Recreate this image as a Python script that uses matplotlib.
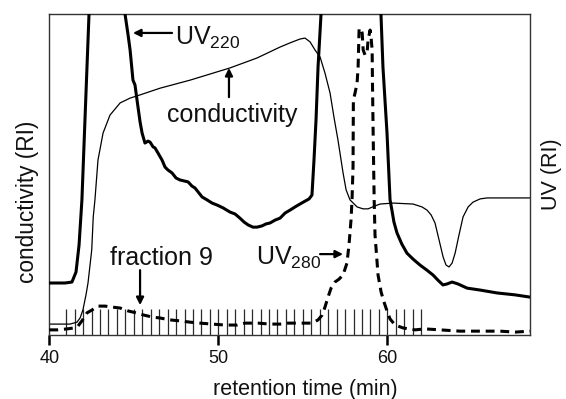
import matplotlib
matplotlib.use("Agg")
import matplotlib.pyplot as plt

plt.rcParams['font.family'] = ['Liberation Sans', 'DejaVu Sans']
plt.rcParams['mathtext.fontset'] = 'custom'
plt.rcParams['mathtext.rm'] = 'Liberation Sans'
plt.rcParams['mathtext.it'] = 'Liberation Sans:italic'
plt.rcParams['mathtext.bf'] = 'Liberation Sans:bold'

# ---- data (retention time in min, signal in relative units 0-100) ----
uv220_a_t = [40.00, 40.93, 41.34, 41.58, 41.76, 41.93, 42.11, 42.35, 42.53]
uv220_a_y = [16.2, 16.2, 16.5, 19.6, 28.0, 42.1, 67.0, 100.0, 129.0]

uv220_b_t = [44.25, 44.48, 44.66, 44.78, 44.95, 45.07, 45.19, 45.37, 45.49, 45.66,
             45.84, 45.96, 46.14, 46.25, 46.43, 46.67, 46.85, 47.02, 47.26, 47.50,
             47.73, 47.97, 48.21, 48.44, 48.62, 48.86, 49.04, 49.33, 49.63, 49.92,
             50.28, 50.69, 50.99, 51.28, 51.52, 51.76, 52.05, 52.29, 52.59, 52.82,
             53.06, 53.36, 53.65, 53.95, 54.24, 54.54, 54.83, 55.13, 55.37, 55.54,
             55.66, 55.78, 55.90, 56.08, 56.20]
uv220_b_y = [130.0, 100.0, 93.5, 88.8, 79.4, 77.9, 73.2, 66.4, 62.9, 59.8,
             60.4, 60.1, 58.6, 58.3, 56.7, 54.5, 52.3, 51.4, 50.5, 48.9,
             48.3, 48.0, 47.7, 46.4, 45.8, 44.2, 43.0, 42.1, 41.1, 40.5,
             39.6, 38.3, 37.7, 36.4, 35.2, 34.3, 33.6, 33.6, 34.0, 34.6,
             34.9, 35.8, 36.4, 38.0, 38.9, 39.9, 40.8, 41.7, 42.4, 43.6,
             54.5, 67.0, 83.5, 100.3, 129.0]

uv220_c_t = [59.50, 59.62, 59.74, 59.98, 60.16, 60.27, 60.39, 60.57, 60.86, 61.16,
             61.51, 61.93, 62.34, 62.70, 62.99, 63.29, 63.53, 63.83, 64.18, 64.72,
             65.49, 66.49, 67.56, 68.44]
uv220_c_y = [130.0, 100.3, 83.5, 62.9, 42.1, 38.9, 35.2, 31.8, 28.3, 25.5,
             23.7, 21.8, 20.2, 18.7, 17.1, 15.6, 15.9, 16.5, 15.9, 14.6,
             14.0, 13.1, 12.5, 11.8]

cond_t = [40.00, 41.22, 41.64, 41.82, 41.99, 42.17, 42.29, 42.41, 42.51, 42.60,
          42.70, 42.88, 43.18, 43.59, 44.19, 44.78, 45.37, 46.56, 48.33, 50.69,
          52.29, 53.65, 54.24, 54.83, 55.13, 55.43, 55.72, 56.02, 56.31, 56.61,
          56.85, 57.08, 57.38, 57.56, 57.79, 58.21, 58.56, 58.86, 59.27, 59.57,
          60.34, 61.52, 62.05, 62.35, 62.59, 62.82, 63.06, 63.30, 63.47, 63.65,
          63.83, 64.01, 64.24, 64.48, 64.78, 65.07, 65.49, 65.90, 68.44]
cond_y = [3.4, 3.4, 4.0, 5.3, 7.8, 12.5, 16.2, 21.8, 26.5, 36.8,
          42.1, 54.5, 62.9, 68.5, 72.3, 73.8, 74.8, 76.9, 79.4, 83.2,
          86.3, 89.7, 91.0, 92.2, 92.5, 91.3, 88.8, 86.6, 81.6, 75.4,
          67.6, 60.7, 50.5, 45.2, 42.1, 39.9, 39.3, 39.3, 40.2, 40.8,
          41.1, 40.8, 39.9, 38.9, 37.4, 34.9, 29.6, 24.3, 21.8, 21.2,
          22.4, 25.5, 31.2, 36.8, 39.9, 41.4, 42.4, 42.7, 42.7]

uv280_t = [40.00, 40.51, 41.05, 41.46, 41.70, 41.93, 42.23, 42.53, 42.88, 43.30,
           43.71, 44.19, 44.66, 45.13, 45.60, 46.08, 46.55, 47.14, 47.73, 48.33,
           48.92, 49.63, 50.40, 51.11, 51.58, 52.35, 53.06, 53.65, 54.12, 54.83,
           55.54, 55.90, 56.14, 56.31, 56.49, 56.67, 56.90, 57.14, 57.38, 57.61,
           57.73, 57.85, 57.91, 57.97, 57.99, 58.09, 58.21, 58.27, 58.33, 58.45,
           58.51, 58.57, 58.68, 58.80, 58.86, 58.98, 59.04, 59.10, 59.12, 59.16,
           59.22, 59.27, 59.45, 59.63, 59.80, 59.98, 60.16, 60.46, 60.93, 61.64,
           62.23, 63.12, 64.30, 65.49, 66.67, 67.56, 68.44]
uv280_y = [1.6, 1.6, 1.9, 2.2, 2.8, 4.4, 6.9, 7.8, 9.0, 9.0,
           8.7, 8.4, 7.5, 6.9, 6.2, 5.6, 5.3, 4.7, 4.4, 4.0,
           3.7, 3.4, 3.1, 3.1, 3.7, 3.7, 3.4, 3.4, 3.7, 3.7,
           3.7, 4.7, 6.2, 8.7, 11.8, 14.6, 16.5, 17.4, 18.7, 22.4,
           28.0, 35.8, 42.1, 52.3, 73.2, 75.4, 78.5, 83.5, 95.6, 95.0,
           94.1, 88.8, 87.2, 87.9, 91.9, 95.0, 92.5, 88.8, 78.5, 62.9,
           42.1, 31.2, 18.7, 13.4, 10.3, 7.5, 5.0, 3.1, 2.2, 1.6,
           1.9, 1.6, 1.2, 1.2, 1.2, 0.9, 1.2]

fraction_edges = [41.0, 41.5, 42.0, 42.5, 43.0, 43.5, 44.0, 44.5, 45.0, 45.5,
                  46.0, 46.5, 47.0, 47.5, 48.0, 48.5, 49.0, 49.5, 50.0, 50.5,
                  51.0, 51.5, 52.0, 52.5, 53.0, 53.5, 54.0, 54.5, 55.0, 55.5,
                  56.0, 56.5, 57.0, 57.5, 58.0, 58.5, 59.0, 59.5, 60.0, 60.5,
                  61.0, 61.5, 62.0]
fraction_top = 8.1

x_ticks = [40, 50, 60]
x_tick_labels = ['40', '50', '60']

# ---- figure ----
fig = plt.figure(figsize=(5.66, 3.99), dpi=100)
ax = fig.add_axes([0.0871, 0.1604, 0.8493, 0.8045])

ax.vlines(fraction_edges, 0, fraction_top, colors='#2a2a2a', lw=0.9, zorder=1)

ax.plot(cond_t, cond_y, color='black', lw=0.9, zorder=2)
for tt, yy in ((uv220_a_t, uv220_a_y), (uv220_b_t, uv220_b_y), (uv220_c_t, uv220_c_y)):
    ax.plot(tt, yy, color='black', lw=2.2, zorder=3, solid_joinstyle='round')
ax.plot(uv280_t, uv280_y, color='black', lw=2.2, dashes=(2.9, 1.9), zorder=3)

ax.set_xlim(40, 68.44)
ax.set_ylim(0, 100)
ax.set_xticks(x_ticks)
ax.set_xticklabels(x_tick_labels)
ax.set_yticks([])
ax.tick_params(axis='x', direction='out', length=7.5, width=1.8, labelsize=13,
               pad=3, colors='black')
ax.tick_params(axis='x', labelcolor='#111111')
for s in ax.spines.values():
    s.set_linewidth(1.0)
    s.set_color('#333333')

# axis labels
ax.set_xlabel('retention time (min)', fontsize=15.5, color='#111111')
ax.xaxis.set_label_coords(0.533, -0.138)
ax.text(-0.0457, 0.416, 'conductivity (RI)', rotation=90, ha='center', va='center',
        fontsize=16.3, color='#111111', transform=ax.transAxes)
ax.text(1.044, 0.50, 'UV (RI)', rotation=90, ha='center', va='center',
        fontsize=15.5, color='#111111', transform=ax.transAxes)

# annotations
arrow = dict(arrowstyle='-|>', lw=1.6, color='black', mutation_scale=11,
             shrinkA=0, shrinkB=0)
ax.annotate('', xy=(44.95, 94.1), xytext=(47.26, 94.1), arrowprops=arrow)
ax.text(47.44, 90.3, r'UV$_{220}$', fontsize=18, ha='left', va='baseline', color='#111111')

ax.annotate('', xy=(50.63, 83.2), xytext=(50.63, 74.1), arrowprops=arrow)
ax.text(50.84, 66.4, 'conductivity', fontsize=18, ha='center', va='baseline', color='#111111')

ax.annotate('', xy=(45.37, 9.3), xytext=(45.37, 20.2), arrowprops=arrow)
ax.text(46.61, 21.8, 'fraction 9', fontsize=18, ha='center', va='baseline', color='#111111')

ax.annotate('', xy=(57.38, 25.2), xytext=(56.02, 25.2), arrowprops=arrow)
ax.text(52.23, 21.8, r'UV$_{280}$', fontsize=18, ha='left', va='baseline', color='#111111')

fig.savefig('out.png', dpi=100)
